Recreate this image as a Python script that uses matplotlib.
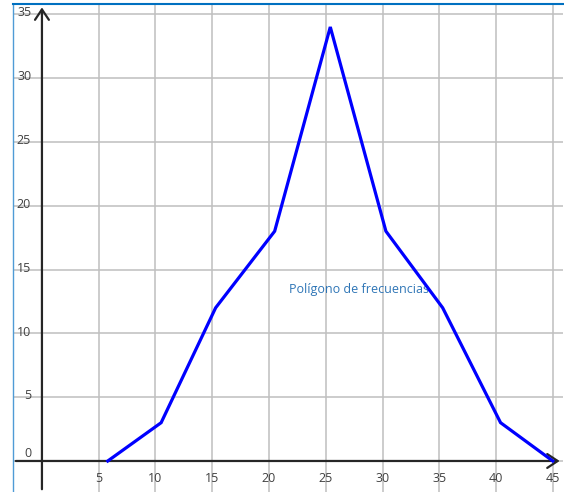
import matplotlib
matplotlib.use("Agg")
import matplotlib.pyplot as plt

# class marks and frequencies
marks = [5.8, 10.5, 15.3, 20.5, 25.4, 30.3, 35.3, 40.4, 45.0]
freqs = [0, 3, 12, 18, 34, 18, 12, 3, 0]
x_ticks = [5, 10, 15, 20, 25, 30, 35, 40, 45]
y_ticks = [0, 5, 10, 15, 20, 25, 30, 35]
label_text = "Polígono de frecuencias"

plt.rcParams["font.family"] = ["Open Sans", "DejaVu Sans"]

W, H = 564, 492
fig = plt.figure(figsize=(W / 100, H / 100), dpi=100)
ax = fig.add_axes([13 / W, 0, 550 / W, 488 / H])
ax.set_xlim(-2.55, 45.9)
ax.set_ylim(-2.43, 35.8)

for v in x_ticks:
    ax.axvline(v, color="#BFBFBF", lw=1.1, zorder=1)
for v in y_ticks:
    ax.axhline(v, color="#BFBFBF", lw=1.1, zorder=1)

# axes with open arrow heads
arrow = dict(arrowstyle="->,head_length=0.75,head_width=0.5", color="#262626", lw=1.6)
ax.annotate("", xy=(45.85, 0), xytext=(-2.55, 0), arrowprops=arrow, zorder=3)
ax.annotate("", xy=(0, 35.75), xytext=(0, -2.43), arrowprops=arrow, zorder=3)

ax.plot(marks, freqs, color="#0000FF", lw=2.3, zorder=4, solid_joinstyle="miter")

for v in x_ticks:
    ax.text(v, -1.35, str(v), ha="center", va="center", fontsize=9, color="#404040")
for v in y_ticks:
    off = 0.6 if v == 0 else 0.1
    ax.text(-0.95, v + off, str(v), ha="right", va="center", fontsize=9, color="#404040")

ax.text(21.75, 13.4, label_text, ha="left", va="center", fontsize=9, color="#2E75B6")

ax.set_xticks([])
ax.set_yticks([])
for side in ["bottom", "right"]:
    ax.spines[side].set_visible(False)
ax.spines["top"].set_color("#0070C0")
ax.spines["left"].set_color("#4F9BD6")
ax.spines["top"].set_linewidth(1.5)
ax.spines["left"].set_linewidth(1.0)

fig.savefig("out.png", dpi=100)
